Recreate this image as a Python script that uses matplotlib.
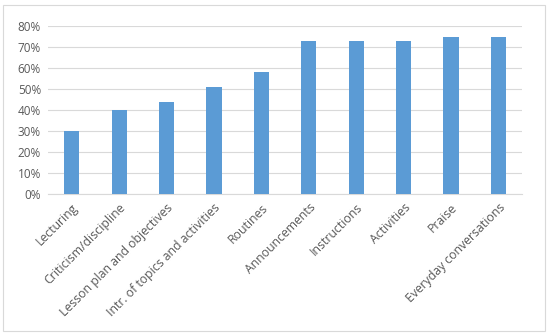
import matplotlib.pyplot as plt
from matplotlib.patches import Rectangle
import numpy as np

categories = ['Lecturing', 'Criticism/discipline', 'Lesson plan and objectives',
              'Intr. of topics and activities', 'Routines', 'Announcements',
              'Instructions', 'Activities', 'Praise', 'Everyday conversations']
values = [0.30, 0.40, 0.44, 0.51, 0.58, 0.73, 0.73, 0.73, 0.75, 0.75]
yticks = [0, 0.1, 0.2, 0.3, 0.4, 0.5, 0.6, 0.7, 0.8]

plt.rcParams['font.family'] = ['Open Sans', 'DejaVu Sans']
text_color = '#595959'

fig = plt.figure(figsize=(5.49, 3.35), dpi=100)
ax = fig.add_axes([0.0874, 0.421, 0.8636, 0.501])

x = np.arange(len(categories))
ax.bar(x, values, width=0.32, color='#5B9BD5', zorder=3)

ax.set_xlim(-0.5, len(categories) - 0.5)
ax.set_ylim(0, 0.8)
ax.set_yticks(yticks)
ax.set_yticklabels(['%d%%' % round(v * 100) for v in yticks], color=text_color, fontsize=8.5)
ax.set_xticks(x)
ax.set_xticklabels(categories, rotation=45, ha='right', rotation_mode='anchor',
                   color=text_color, fontsize=8.8)
ax.tick_params(length=0, pad=5)
ax.tick_params(axis='x', pad=5)

ax.grid(axis='y', color='#d9d9d9', linewidth=0.8, zorder=0)
for s in ['top', 'right', 'left']:
    ax.spines[s].set_visible(False)
ax.spines['bottom'].set_color('#d9d9d9')

fig.patches.append(Rectangle((0.006, 0.012), 0.987, 0.972, transform=fig.transFigure,
                             fill=False, edgecolor='#d9d9d9', linewidth=0.8))

fig.savefig('out.png', dpi=100)
